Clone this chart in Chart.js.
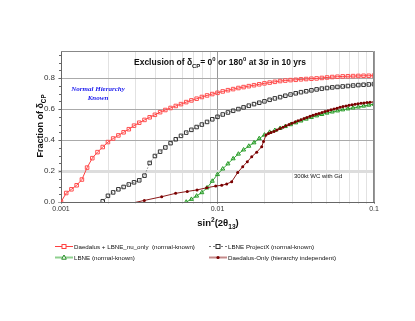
<!DOCTYPE html>
<html>
<head>
<meta charset="utf-8">
<title>Exclusion of dCP</title>
<script src="https://cdn.jsdelivr.net/npm/chart.js"></script>
<style>
    body {
        margin: 0;
        background-color: #fff;
    }
    #wrap {
        width: 415px;
        height: 321px;
    }
</style>
</head>
<body>
<div id="wrap"><canvas id="myChart" width="415" height="321"></canvas></div>
<script>
    // x grid shared by the three densely sampled curves
    const sinGrid = [0.001, 0.00108, 0.001166, 0.001259, 0.00136, 0.001468, 0.001585, 0.001711, 0.001848, 0.001995,
        0.002154, 0.002326, 0.002512, 0.002712, 0.002929, 0.003162, 0.003415, 0.003687, 0.003981, 0.004299,
        0.004642, 0.005012, 0.005412, 0.005843, 0.00631, 0.006813, 0.007356, 0.007943, 0.008577, 0.009261,
        0.01, 0.0108, 0.01166, 0.01259, 0.0136, 0.01468, 0.01585, 0.01711, 0.01848, 0.01995,
        0.02154, 0.02326, 0.02512, 0.02712, 0.02929, 0.03162, 0.03415, 0.03687, 0.03981, 0.04299,
        0.04642, 0.05012, 0.05412, 0.05843, 0.0631, 0.06813, 0.07356, 0.07943, 0.08577, 0.09261, 0.1];

    const daedalusLbne = [0.0, 0.058, 0.082, 0.108, 0.145, 0.222, 0.283, 0.322, 0.355, 0.387,
        0.41, 0.43, 0.45, 0.47, 0.493, 0.512, 0.53, 0.547, 0.563, 0.58,
        0.594, 0.607, 0.62, 0.632, 0.645, 0.656, 0.667, 0.678, 0.688, 0.697,
        0.705, 0.714, 0.722, 0.729, 0.736, 0.742, 0.748, 0.754, 0.76, 0.766,
        0.771, 0.776, 0.781, 0.784, 0.787, 0.789, 0.792, 0.794, 0.796, 0.798,
        0.801, 0.804, 0.807, 0.809, 0.811, 0.812, 0.813, 0.814, 0.815, 0.815, 0.816];

    const lbneProjectX = [null, null, null, null, null, null, null, null, 0.005, 0.04,
        0.062, 0.082, 0.097, 0.113, 0.127, 0.14, 0.17, 0.252, 0.297, 0.325,
        0.352, 0.38, 0.405, 0.427, 0.448, 0.466, 0.484, 0.5, 0.517, 0.534,
        0.55, 0.565, 0.578, 0.589, 0.6, 0.611, 0.622, 0.632, 0.641, 0.65,
        0.66, 0.669, 0.677, 0.686, 0.694, 0.702, 0.709, 0.715, 0.721, 0.727,
        0.732, 0.736, 0.74, 0.743, 0.746, 0.749, 0.752, 0.755, 0.757, 0.759, 0.761];

    const lbneNormal = [null, null, null, null, null, null, null, null, null, null,
        null, null, null, null, null, null, null, null, null, null,
        null, null, null, null, 0.0, 0.018, 0.039, 0.061, 0.092, 0.135,
        0.178, 0.214, 0.247, 0.28, 0.31, 0.337, 0.361, 0.383, 0.41, 0.433,
        0.451, 0.463, 0.476, 0.488, 0.5, 0.512, 0.524, 0.536, 0.547, 0.557,
        0.566, 0.575, 0.582, 0.589, 0.596, 0.602, 0.608, 0.614, 0.62, 0.626, 0.632];

    // Daedalus-only has its own sampling (sparse on the left, dense on the right)
    const daedalusX = [0.00276, 0.003406, 0.0044, 0.0054, 0.00641, 0.0074, 0.00853, 0.00974, 0.01064, 0.01145,
        0.01232, 0.01346, 0.01449, 0.0155, 0.01654, 0.0178, 0.01916, 0.01968, 0.02041, 0.02118,
        0.02198, 0.02296, 0.0240, 0.02508, 0.02621, 0.0274, 0.02863, 0.02992, 0.03127, 0.03268,
        0.03415, 0.03569, 0.0373, 0.03899, 0.04074, 0.04258, 0.0445, 0.04651, 0.04861, 0.05082,
        0.05311, 0.0555, 0.058, 0.06062, 0.06337, 0.06623, 0.06922, 0.07233, 0.0756, 0.07902,
        0.08259, 0.0863, 0.0902, 0.09428, 0.1];
    const daedalusOnly = [-0.01, 0.01, 0.034, 0.056, 0.068, 0.078, 0.092, 0.103, 0.108, 0.116,
        0.131, 0.19, 0.228, 0.26, 0.292, 0.322, 0.357, 0.39, 0.432, 0.442,
        0.448, 0.456, 0.465, 0.474, 0.483, 0.492, 0.5, 0.508, 0.516, 0.524,
        0.531, 0.539, 0.546, 0.553, 0.56, 0.566, 0.572, 0.578, 0.584, 0.59,
        0.596, 0.601, 0.606, 0.611, 0.616, 0.62, 0.624, 0.628, 0.631, 0.634,
        0.637, 0.64, 0.642, 0.644, 0.646];

    const yTicks = [0, 0.2, 0.4, 0.6, 0.8];
    const xGridVals = [0.001, 0.002, 0.003, 0.004, 0.005, 0.006, 0.007, 0.008, 0.009,
        0.01, 0.02, 0.03, 0.04, 0.05, 0.06, 0.07, 0.08, 0.09, 0.1];
    const xLabelVals = [0.001, 0.01, 0.1];
    const xLabelText = ['0.001', '0.01', '0.1'];

    function pts(xs, ys) {
        const out = [];
        for (let i = 0; i < xs.length; i++) {
            if (ys[i] !== null) out.push({ x: xs[i], y: ys[i] });
        }
        return out;
    }

    function labelIndex(v) {
        return xLabelVals.findIndex(l => Math.abs(l - v) / l < 1e-6);
    }

    // text with sub/superscripts
    function richWidth(ctx, parts, size, style, family) {
        let w = 0;
        parts.forEach(p => {
            ctx.font = style + ' ' + (p.sub || p.sup ? size * 0.7 : size) + 'px ' + family;
            w += ctx.measureText(p.t).width;
        });
        return w;
    }

    function drawRich(ctx, parts, x, y, size, style, family, align) {
        const w = richWidth(ctx, parts, size, style, family);
        let cx = align === 'center' ? x - w / 2 : x;
        ctx.textAlign = 'left';
        ctx.textBaseline = 'alphabetic';
        parts.forEach(p => {
            const s = p.sub || p.sup ? size * 0.7 : size;
            ctx.font = style + ' ' + s + 'px ' + family;
            const dy = p.sub ? size * 0.3 : (p.sup ? -size * 0.45 : 0);
            ctx.fillText(p.t, cx, y + dy);
            cx += ctx.measureText(p.t).width;
        });
    }

    const decor = {
        id: 'decor',
        afterDraw(chart) {
            const ctx = chart.ctx;
            const a = chart.chartArea;
            const ys = chart.scales.y;
            ctx.save();

            // frame top / right
            ctx.strokeStyle = '#888';
            ctx.lineWidth = 1;
            ctx.beginPath();
            ctx.moveTo(a.left, a.top + 0.5);
            ctx.lineTo(a.right - 0.5, a.top + 0.5);
            ctx.lineTo(a.right - 0.5, a.bottom);
            ctx.stroke();

            // minor ticks on the y axis
            ctx.strokeStyle = '#666';
            for (let v = 0.05; v < 0.97; v += 0.05) {
                const py = Math.round(ys.getPixelForValue(v)) + 0.5;
                ctx.beginPath();
                ctx.moveTo(a.left - 2, py);
                ctx.lineTo(a.left, py);
                ctx.stroke();
            }

            ctx.fillStyle = '#111';
            drawRich(ctx, [
                { t: 'Exclusion of δ' }, { t: 'CP', sub: true }, { t: '= 0' }, { t: '0', sup: true },
                { t: ' or 180' }, { t: '0', sup: true }, { t: ' at 3σ in 10 yrs' }
            ], 220, 65, 8.5, 'bold', 'Arial', 'center');

            ctx.fillStyle = '#1a1aee';
            ctx.font = 'italic bold 7px "Liberation Serif"';
            ctx.textAlign = 'center';
            ctx.fillText('Normal Hierarchy', 98, 91);
            ctx.fillText('Known', 98, 99.5);

            ctx.fillStyle = '#111';
            ctx.font = '6px Arial';
            ctx.textAlign = 'left';
            ctx.fillText('300kt WC with Gd', 294, 178);

            // axis titles
            ctx.fillStyle = '#111';
            drawRich(ctx, [
                { t: 'sin' }, { t: '2', sup: true }, { t: '(2θ' }, { t: '13', sub: true }, { t: ')' }
            ], 218, 226, 9.5, 'bold', 'Arial', 'center');

            ctx.save();
            ctx.translate(43, 126);
            ctx.rotate(-Math.PI / 2);
            drawRich(ctx, [{ t: 'Fraction of δ' }, { t: 'CP', sub: true }], 0, 0, 9, 'bold', 'Arial', 'center');
            ctx.restore();

            // legend
            const rows = [
                { x: 55, y: 246.5, line: '#ff4040', lw: 1, dash: [], mark: 'rect', mc: '#ff4040', text: 'Daedalus + LBNE_nu_only  (normal-known)' },
                { x: 209, y: 246.5, line: '#777', lw: 1, dash: [2, 2], mark: 'rect', mc: '#333', text: 'LBNE ProjectX (normal-known)' },
                { x: 55, y: 257.5, line: '#8fd08f', lw: 2, dash: [], mark: 'tri', mc: '#228b22', text: 'LBNE (normal-known)' },
                { x: 209, y: 257.5, line: '#c48a8a', lw: 2, dash: [], mark: 'dot', mc: '#7a0000', text: 'Daedalus-Only (hierarchy independent)' }
            ];
            rows.forEach(r => {
                ctx.strokeStyle = r.line;
                ctx.lineWidth = r.lw;
                ctx.setLineDash(r.dash);
                ctx.beginPath();
                ctx.moveTo(r.x, r.y);
                ctx.lineTo(r.x + 18, r.y);
                ctx.stroke();
                ctx.setLineDash([]);
                const mx = r.x + 9;
                ctx.lineWidth = 1;
                ctx.strokeStyle = r.mc;
                ctx.fillStyle = '#fff';
                if (r.mark === 'rect') {
                    ctx.fillRect(mx - 2, r.y - 2, 4, 4);
                    ctx.strokeRect(mx - 2, r.y - 2, 4, 4);
                } else if (r.mark === 'tri') {
                    ctx.beginPath();
                    ctx.moveTo(mx, r.y - 2.5);
                    ctx.lineTo(mx + 2.3, r.y + 1.7);
                    ctx.lineTo(mx - 2.3, r.y + 1.7);
                    ctx.closePath();
                    ctx.fill();
                    ctx.stroke();
                } else {
                    ctx.fillStyle = r.mc;
                    ctx.beginPath();
                    ctx.arc(mx, r.y, 1.6, 0, Math.PI * 2);
                    ctx.fill();
                }
                ctx.fillStyle = '#111';
                ctx.font = '6.2px Arial';
                ctx.textAlign = 'left';
                ctx.textBaseline = 'middle';
                ctx.fillText(r.text, r.x + 19, r.y + 0.5);
            });
            ctx.restore();
        }
    };

    const ctx = document.getElementById('myChart').getContext('2d');
    const chart = new Chart(ctx, {
        type: 'line',
        data: {
            datasets: [{
                label: 'Daedalus-Only (hierarchy independent)',
                data: pts(daedalusX, daedalusOnly),
                borderColor: '#8b1a1a',
                borderWidth: 1,
                pointStyle: 'circle',
                pointRadius: 1.5,
                pointBackgroundColor: '#7a0000',
                pointBorderColor: '#7a0000',
                pointBorderWidth: 0,
                order: 0
            }, {
                label: 'LBNE (normal-known)',
                data: pts(sinGrid, lbneNormal),
                borderColor: '#33a533',
                borderWidth: 1,
                pointStyle: 'triangle',
                pointRadius: 2.3,
                pointBackgroundColor: 'rgba(255,255,255,0)',
                pointBorderColor: '#249a24',
                pointBorderWidth: 1,
                order: 1
            }, {
                label: 'LBNE ProjectX (normal-known)',
                data: pts(sinGrid, lbneProjectX),
                borderColor: '#888',
                borderWidth: 1,
                borderDash: [1.5, 1.5],
                pointStyle: 'rect',
                pointRadius: 2.5,
                pointBackgroundColor: 'rgba(255,255,255,0)',
                pointBorderColor: '#333',
                pointBorderWidth: 1,
                order: 2
            }, {
                label: 'Daedalus + LBNE_nu_only  (normal-known)',
                data: pts(sinGrid, daedalusLbne),
                borderColor: '#ff4040',
                borderWidth: 1,
                pointStyle: 'rect',
                pointRadius: 2.5,
                pointBackgroundColor: 'rgba(255,255,255,0)',
                pointBorderColor: '#ff5050',
                pointBorderWidth: 1,
                order: 3
            }]
        },
        options: {
            responsive: false,
            animation: false,
            layout: { padding: { left: 26, top: 51, right: 41, bottom: 99 } },
            plugins: {
                legend: { display: false },
                tooltip: { enabled: false }
            },
            scales: {
                x: {
                    type: 'logarithmic',
                    min: 0.001,
                    max: 0.1,
                    afterBuildTicks: s => { s.ticks = xGridVals.map(v => ({ value: v })); },
                    afterFit: s => { s.height = 20; },
                    ticks: {
                        autoSkip: false,
                        maxRotation: 0,
                        padding: 1,
                        color: '#333',
                        font: { family: 'Arial', size: 7 },
                        callback: v => {
                            const i = labelIndex(v);
                            return i >= 0 ? xLabelText[i] : '';
                        }
                    },
                    grid: {
                        color: c => (labelIndex(c.tick.value) >= 0 ? '#999' : '#e2e2e2'),
                        tickLength: 2
                    },
                    border: { color: '#666' }
                },
                y: {
                    min: 0,
                    max: 0.975,
                    afterBuildTicks: s => { s.ticks = yTicks.map(v => ({ value: v })); },
                    afterFit: s => { s.width = 35; },
                    ticks: {
                        padding: 3,
                        color: '#333',
                        font: { family: 'Arial', size: 8 },
                        callback: v => v.toFixed(1)
                    },
                    grid: {
                        color: c => (c.tick.value === 0.2 ? '#dddddd' : '#aaaaaa'),
                        lineWidth: c => (c.tick.value === 0.2 ? 3 : 1),
                        tickLength: 3
                    },
                    border: { color: '#666' }
                }
            }
        },
        plugins: [decor]
    });
</script>
</body>
</html>
